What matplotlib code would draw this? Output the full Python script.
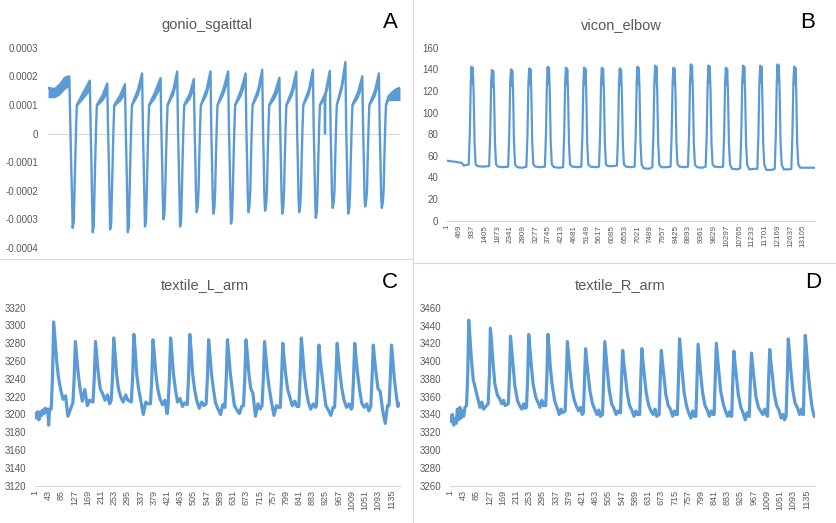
import numpy as np
import matplotlib
matplotlib.use("Agg")
import matplotlib.pyplot as plt
from matplotlib.lines import Line2D

# ---- data (sample index, value) ----

# gonio_sgaittal, values in units of 1e-4; band = thickness of the noisy ramp below the trace
gonio_x = [1, 250, 450, 650, 820, 860, 890, 925, 950,
           990, 1020, 1050, 1080, 1110, 1330, 1610, 1640, 1670, 1695, 1720,
           1760, 1790, 1820, 1850, 1880, 2100, 2280, 2310, 2340, 2365, 2390,
           2430, 2460, 2490, 2520, 2550, 2770, 2960, 2990, 3020, 3045, 3070,
           3110, 3140, 3170, 3200, 3230, 3450, 3620, 3650, 3680, 3705, 3730,
           3770, 3800, 3830, 3860, 3890, 4110, 4330, 4360, 4390, 4415, 4440,
           4480, 4510, 4540, 4570, 4600, 4820, 4970, 5000, 5030, 5055, 5080,
           5120, 5150, 5180, 5210, 5240, 5460, 5610, 5640, 5670, 5695, 5720,
           5760, 5790, 5820, 5850, 5880, 6100, 6250, 6280, 6310, 6335, 6360,
           6400, 6430, 6460, 6490, 6520, 6740, 6930, 6960, 6990, 7015, 7040,
           7080, 7110, 7140, 7170, 7200, 7420, 7600, 7630, 7660, 7685, 7710,
           7750, 7780, 7810, 7840, 7870, 8090, 8240, 8270, 8300, 8325, 8350,
           8390, 8420, 8450, 8480, 8510, 8730, 8900, 8930, 8960, 8985, 9010,
           9050, 9080, 9110, 9140, 9170, 9390, 9550, 9580, 9610, 9635, 9660,
           9700, 9730, 9760, 9790, 9820, 10040, 10190, 10220, 10250, 10275, 10300,
           10340, 10370, 10400, 10430, 10460, 10640, 10655, 10670, 10840, 10870, 10900, 10925, 10950,
           10990, 11020, 11050, 11080, 11110, 11300, 11440, 11470, 11500, 11525, 11550,
           11590, 11620, 11650, 11680, 11710, 11930, 12090, 12120, 12150, 12175, 12200,
           12240, 12270, 12300, 12330, 12360, 12580, 12730, 12760, 12790, 12815, 12840,
           12880, 12910, 12940, 12970, 13000, 13100, 13250, 13400, 13540]
gonio_y = [1.6, 1.55, 1.7, 1.95, 2.0, 0.2, -1.0, -2.2, -3.3,
           -3.1, -2.0, -0.8, 0.2, 1.0, 1.38, 1.85, 0.2, -1.0, -2.2, -3.45,
           -3.25, -2.0, -0.8, 0.2, 1.0, 1.34, 1.75, 0.2, -1.0, -2.2, -3.35,
           -3.15, -2.0, -0.8, 0.2, 1.0, 1.32, 1.72, 0.2, -1.0, -2.2, -3.45,
           -3.25, -2.0, -0.8, 0.2, 1.0, 1.5, 2.1, 0.2, -1.0, -2.2, -3.25,
           -3.05, -2.0, -0.8, 0.2, 1.0, 1.42, 1.94, 0.2, -1.0, -2.2, -3.0,
           -2.8, -2.0, -0.8, 0.2, 1.0, 1.53, 2.17, 0.2, -1.0, -2.2, -3.25,
           -3.05, -2.0, -0.8, 0.2, 1.0, 1.4, 1.9, 0.2, -1.0, -2.2, -2.75,
           -2.55, -2.0, -0.8, 0.2, 1.0, 1.53, 2.17, 0.2, -1.0, -2.2, -2.8,
           -2.6, -2.0, -0.8, 0.2, 1.0, 1.53, 2.17, 0.2, -1.0, -2.2, -3.15,
           -2.95, -2.0, -0.8, 0.2, 1.0, 1.5, 2.1, 0.2, -1.0, -2.2, -2.75,
           -2.55, -2.0, -0.8, 0.2, 1.0, 1.55, 2.23, 0.2, -1.0, -2.2, -2.7,
           -2.5, -2.0, -0.8, 0.2, 1.0, 1.43, 1.95, 0.2, -1.0, -2.2, -2.8,
           -2.6, -2.0, -0.8, 0.2, 1.0, 1.52, 2.16, 0.2, -1.0, -2.2, -2.75,
           -2.55, -2.0, -0.8, 0.2, 1.0, 1.55, 2.23, 0.2, -1.0, -2.2, -2.95,
           -2.75, -2.0, -0.8, 0.2, 1.0, 1.35, 0.0, 1.4, 2.19, 0.2, -1.0, -2.2, -2.6,
           -2.4, -2.0, -0.8, 0.2, 1.0, 1.68, 2.5, 0.2, -1.0, -2.2, -2.8,
           -2.6, -2.0, -0.8, 0.2, 1.0, 1.45, 2.0, 0.2, -1.0, -2.2, -2.55,
           -2.35, -2.0, -0.8, 0.2, 1.0, 1.5, 2.1, 0.2, -1.0, -2.2, -2.6,
           -2.4, -2.0, -0.8, 0.2, 1.0, 1.3, 1.45, 1.55, 1.6]
gonio_band = [0.35, 0.3, 0.35, 0.4, 0.35, 0, 0, 0, 0,
              0, 0, 0, 0, 0.05, 0.2, 0.35, 0, 0, 0, 0,
              0, 0, 0, 0, 0.05, 0.2, 0.35, 0, 0, 0, 0,
              0, 0, 0, 0, 0.05, 0.2, 0.35, 0, 0, 0, 0,
              0, 0, 0, 0, 0.05, 0.2, 0.35, 0, 0, 0, 0,
              0, 0, 0, 0, 0.05, 0.2, 0.35, 0, 0, 0, 0,
              0, 0, 0, 0, 0.05, 0.2, 0.35, 0, 0, 0, 0,
              0, 0, 0, 0, 0.05, 0.2, 0.35, 0, 0, 0, 0,
              0, 0, 0, 0, 0.05, 0.2, 0.35, 0, 0, 0, 0,
              0, 0, 0, 0, 0.05, 0.2, 0.35, 0, 0, 0, 0,
              0, 0, 0, 0, 0.05, 0.2, 0.35, 0, 0, 0, 0,
              0, 0, 0, 0, 0.05, 0.2, 0.35, 0, 0, 0, 0,
              0, 0, 0, 0, 0.05, 0.2, 0.35, 0, 0, 0, 0,
              0, 0, 0, 0, 0.05, 0.2, 0.35, 0, 0, 0, 0,
              0, 0, 0, 0, 0.05, 0.2, 0.35, 0, 0, 0, 0,
              0, 0, 0, 0, 0.05, 0.15, 0, 0.15, 0.35, 0, 0, 0, 0,
              0, 0, 0, 0, 0.05, 0.2, 0.35, 0, 0, 0, 0,
              0, 0, 0, 0, 0.05, 0.2, 0.35, 0, 0, 0, 0,
              0, 0, 0, 0, 0.05, 0.2, 0.35, 0, 0, 0, 0,
              0, 0, 0, 0, 0.05, 0.15, 0.3, 0.4, 0.45]

# vicon_elbow
vicon_x = [1, 300, 560, 620, 700,
           810, 850, 885, 915, 940, 960, 990, 1025, 1065, 1140, 1340,
           1560, 1600, 1635, 1665, 1690, 1710, 1740, 1775, 1815, 1890, 2090,
           2260, 2300, 2335, 2365, 2390, 2410, 2440, 2475, 2515, 2590, 2790,
           2930, 2970, 3005, 3035, 3060, 3080, 3110, 3145, 3185, 3260, 3460,
           3610, 3650, 3685, 3715, 3740, 3760, 3790, 3825, 3865, 3940, 4140,
           4280, 4320, 4355, 4385, 4410, 4430, 4460, 4495, 4535, 4610, 4810,
           4950, 4990, 5025, 5055, 5080, 5100, 5130, 5165, 5205, 5280, 5480,
           5600, 5640, 5675, 5705, 5730, 5750, 5780, 5815, 5855, 5930, 6130,
           6260, 6300, 6335, 6365, 6390, 6410, 6440, 6475, 6515, 6590, 6790,
           6910, 6950, 6985, 7015, 7040, 7060, 7090, 7125, 7165, 7240, 7440,
           7560, 7600, 7635, 7665, 7690, 7710, 7740, 7775, 7815, 7890, 8090,
           8230, 8270, 8305, 8335, 8360, 8380, 8410, 8445, 8485, 8560, 8760,
           8870, 8910, 8945, 8975, 9000, 9020, 9050, 9085, 9125, 9200, 9400,
           9520, 9560, 9595, 9625, 9650, 9670, 9700, 9735, 9775, 9850, 10050,
           10160, 10200, 10235, 10265, 10290, 10310, 10340, 10375, 10415, 10490, 10690,
           10790, 10830, 10865, 10895, 10920, 10940, 10970, 11005, 11045, 11120, 11320,
           11420, 11460, 11495, 11525, 11550, 11570, 11600, 11635, 11675, 11750, 11950,
           12060, 12100, 12135, 12165, 12190, 12210, 12240, 12275, 12315, 12390, 12590,
           12670, 12710, 12745, 12775, 12800, 12820, 12850, 12885, 12925, 13000, 13200,
           13540]
vicon_y = [55.5, 54.5, 53.5, 51, 51.5,
           52, 80, 128, 142.4, 127, 141.4, 120, 72, 52, 50.5, 50,
           50.5, 80, 128, 139.3, 124, 138.3, 120, 72, 52, 50, 49.5,
           50, 80, 128, 140, 125, 139, 120, 72, 52, 49.5, 49,
           50, 80, 128, 140.9, 126, 139.9, 120, 72, 52, 50, 49.5,
           50, 80, 128, 142.4, 127, 141.4, 120, 72, 52, 49.5, 49,
           49.5, 80, 128, 141.5, 126, 140.5, 120, 72, 52, 50, 49.5,
           50, 80, 128, 141.5, 126, 140.5, 120, 72, 52, 50, 49.5,
           50, 80, 128, 141.5, 126, 140.5, 120, 72, 52, 50.5, 50.5,
           51, 80, 128, 140.9, 126, 139.9, 120, 72, 52, 50, 49.5,
           50, 80, 128, 142.4, 127, 141.4, 120, 72, 52, 48.5, 48,
           49.5, 80, 128, 143.4, 128, 142.4, 120, 72, 52, 49.5, 49.5,
           50, 80, 128, 141.5, 126, 140.5, 120, 72, 52, 50, 49.5,
           50, 80, 128, 144.6, 129, 143.6, 120, 72, 52, 49.5, 49,
           50, 80, 128, 143.4, 128, 142.4, 120, 72, 52, 50, 49.5,
           50, 80, 128, 141.5, 126, 140.5, 120, 72, 52, 48, 47.5,
           48.5, 80, 128, 143.4, 128, 142.4, 120, 72, 52, 47.5, 48,
           48, 80, 128, 143.4, 128, 142.4, 120, 72, 52, 47, 47,
           48, 80, 128, 144.6, 129, 143.6, 120, 72, 52, 47.5, 47.5,
           48, 80, 128, 142.4, 127, 141.4, 120, 72, 52, 49, 49,
           49]

# textile_L_arm
textile_L_x = [1, 5, 9, 13, 17, 21, 25, 29, 33, 37, 41, 44, 47,
               52, 56, 60, 64, 69, 75, 82, 90, 98, 105,
               121, 125, 129, 133, 138, 144, 151, 159, 167, 174,
               185, 189, 193, 197, 202, 208, 215, 223, 231, 238,
               243, 247, 251, 255, 260, 266, 273, 281, 289, 296,
               307, 311, 315, 319, 324, 330, 337, 345, 353, 360,
               368, 372, 376, 380, 385, 391, 398, 406, 414, 421,
               424, 428, 432, 436, 441, 447, 454, 462, 470, 477,
               485, 489, 493, 497, 502, 508, 515, 523, 531, 538,
               545, 549, 553, 557, 562, 568, 575, 583, 591, 598,
               605, 609, 613, 617, 622, 628, 635, 643, 651, 658,
               664, 668, 672, 676, 681, 687, 694, 702, 710, 717,
               723, 727, 731, 735, 740, 746, 753, 761, 769, 776,
               781, 785, 789, 793, 798, 804, 811, 819, 827, 834,
               840, 844, 848, 852, 857, 863, 870, 878, 886, 893,
               896, 900, 904, 908, 913, 919, 926, 934, 942, 949,
               954, 958, 962, 966, 971, 977, 984, 992, 1000, 1007,
               1010, 1014, 1018, 1022, 1027, 1033, 1040, 1048, 1056, 1063,
               1069, 1073, 1077, 1081, 1086, 1092, 1099, 1107, 1115, 1122,
               1127, 1131, 1135, 1139, 1144, 1150, 1155, 1160]
textile_L_y = [3201, 3196, 3203, 3194, 3203, 3199, 3205, 3201, 3207, 3203, 3206, 3188, 3206,
               3206, 3240, 3304, 3285, 3262, 3242, 3228, 3217, 3221, 3198,
               3213, 3240, 3282, 3266, 3246, 3229, 3215, 3228, 3210, 3216,
               3214, 3240, 3282, 3266, 3246, 3229, 3224, 3216, 3222, 3212,
               3216, 3240, 3286, 3270, 3246, 3229, 3220, 3214, 3222, 3216,
               3214, 3240, 3290, 3274, 3246, 3229, 3216, 3200, 3214, 3212,
               3212, 3240, 3284, 3268, 3246, 3229, 3218, 3211, 3216, 3201,
               3210, 3240, 3286, 3270, 3246, 3229, 3214, 3218, 3209, 3213,
               3211, 3240, 3290, 3274, 3246, 3229, 3216, 3207, 3214, 3210,
               3212, 3240, 3284, 3268, 3246, 3229, 3213, 3206, 3200, 3211,
               3208, 3240, 3284, 3268, 3246, 3229, 3210, 3205, 3201, 3209,
               3210, 3240, 3284, 3268, 3246, 3229, 3224, 3198, 3212, 3206,
               3210, 3240, 3282, 3266, 3246, 3229, 3214, 3199, 3210, 3208,
               3208, 3240, 3280, 3264, 3246, 3229, 3220, 3210, 3215, 3209,
               3209, 3240, 3286, 3270, 3246, 3229, 3214, 3206, 3212, 3208,
               3210, 3240, 3278, 3262, 3246, 3229, 3210, 3205, 3199, 3208,
               3208, 3240, 3280, 3264, 3246, 3229, 3216, 3208, 3212, 3206,
               3208, 3240, 3280, 3264, 3246, 3229, 3213, 3208, 3212, 3204,
               3209, 3240, 3278, 3262, 3246, 3229, 3226, 3204, 3190, 3210,
               3210, 3240, 3278, 3262, 3240, 3222, 3209, 3212]

# textile_R_arm
textile_R_x = [1, 4, 8, 12, 16, 20, 24, 28, 32, 36, 40, 44, 48,
               53, 57, 60, 63, 68, 74, 82, 89, 96, 102, 107,
               122, 126, 129, 132, 137, 143, 151, 158, 165, 171, 176,
               186, 190, 193, 196, 201, 207, 215, 222, 229, 235, 240,
               244, 248, 251, 254, 259, 265, 273, 280, 287, 293, 298,
               305, 309, 312, 315, 320, 326, 334, 341, 348, 354, 359,
               367, 371, 374, 377, 382, 388, 396, 403, 410, 416, 421,
               425, 429, 432, 435, 440, 446, 454, 461, 468, 474, 479,
               486, 490, 493, 496, 501, 507, 515, 522, 529, 535, 540,
               543, 547, 550, 553, 558, 564, 572, 579, 586, 592, 597,
               604, 608, 611, 614, 619, 625, 633, 640, 647, 653, 658,
               666, 670, 673, 676, 681, 687, 695, 702, 709, 715, 720,
               724, 728, 731, 734, 739, 745, 753, 760, 767, 773, 778,
               783, 787, 790, 793, 798, 804, 812, 819, 826, 832, 837,
               841, 845, 848, 851, 856, 862, 870, 877, 884, 890, 895,
               897, 901, 904, 907, 912, 918, 926, 933, 940, 946, 951,
               953, 957, 960, 963, 968, 974, 982, 989, 996, 1002, 1007,
               1011, 1015, 1018, 1021, 1026, 1032, 1040, 1047, 1054, 1060, 1065,
               1070, 1074, 1077, 1080, 1085, 1091, 1099, 1106, 1113, 1119, 1123,
               1125, 1128, 1131, 1134, 1139, 1145, 1151, 1155, 1160]
textile_R_y = [3338, 3332, 3340, 3328, 3335, 3330, 3346, 3334, 3348, 3336, 3344, 3338, 3348,
               3350, 3385, 3446, 3432, 3405, 3380, 3368, 3358, 3348, 3354, 3346,
               3352, 3385, 3437, 3425, 3400, 3375, 3362, 3358, 3352, 3356, 3350,
               3352, 3385, 3428, 3416, 3395, 3372, 3356, 3350, 3346, 3352, 3347,
               3348, 3385, 3430, 3418, 3396, 3374, 3360, 3354, 3348, 3356, 3350,
               3350, 3385, 3430, 3418, 3392, 3372, 3355, 3348, 3340, 3346, 3342,
               3344, 3385, 3422, 3410, 3390, 3370, 3356, 3349, 3344, 3348, 3340,
               3342, 3385, 3414, 3402, 3385, 3366, 3352, 3346, 3340, 3345, 3338,
               3340, 3385, 3422, 3410, 3390, 3368, 3352, 3347, 3340, 3344, 3342,
               3342, 3385, 3412, 3400, 3385, 3365, 3350, 3345, 3338, 3344, 3340,
               3340, 3385, 3414, 3402, 3384, 3364, 3350, 3344, 3340, 3346, 3338,
               3340, 3385, 3412, 3400, 3384, 3363, 3350, 3346, 3338, 3344, 3340,
               3340, 3385, 3425, 3413, 3390, 3366, 3350, 3342, 3336, 3344, 3338,
               3338, 3385, 3419, 3407, 3386, 3365, 3350, 3345, 3338, 3344, 3340,
               3340, 3385, 3420, 3408, 3388, 3366, 3352, 3344, 3338, 3343, 3338,
               3338, 3385, 3411, 3399, 3382, 3362, 3348, 3342, 3334, 3342, 3338,
               3338, 3385, 3409, 3397, 3380, 3360, 3348, 3344, 3340, 3346, 3340,
               3338, 3385, 3413, 3401, 3385, 3364, 3350, 3345, 3336, 3340, 3334,
               3338, 3385, 3425, 3413, 3390, 3368, 3352, 3348, 3340, 3346, 3340,
               3340, 3385, 3429, 3417, 3392, 3370, 3352, 3344, 3338]

titles = ["gonio_sgaittal", "vicon_elbow", "textile_L_arm", "textile_R_arm"]
letters = ["A", "B", "C", "D"]

gonio_ticks = [-0.0004, -0.0003, -0.0002, -0.0001, 0, 0.0001, 0.0002, 0.0003]
gonio_labels = ["-0.0004", "-0.0003", "-0.0002", "-0.0001", "0", "0.0001", "0.0002", "0.0003"]
vicon_ticks = [0, 20, 40, 60, 80, 100, 120, 140, 160]
textile_L_ticks = [3120, 3140, 3160, 3180, 3200, 3220, 3240, 3260, 3280, 3300, 3320]
textile_R_ticks = [3260, 3280, 3300, 3320, 3340, 3360, 3380, 3400, 3420, 3440, 3460]
vicon_xlabels = list(range(1, 13106, 468))
textile_xlabels = list(range(1, 1136, 42))

vicon_n = 13540
textile_n = 1162

BLUE = "#5b9bd5"
GREY = "#595959"
LIGHT = "#d9d9d9"
W, H = 837, 523

plt.rcParams["font.family"] = ["Liberation Sans", "DejaVu Sans"]


def rect(l, t, r, b):
    return [l / W, 1 - b / H, (r - l) / W, (b - t) / H]


def style_axes(ax, ticks, labels, pad):
    ax.set_ylim(ticks[0], ticks[-1])
    ax.set_yticks(ticks)
    ax.set_yticklabels(labels, fontsize=7, color=GREY)
    ax.tick_params(axis="y", length=0, pad=pad)
    for side in ["top", "right", "left"]:
        ax.spines[side].set_visible(False)
    ax.spines["bottom"].set_color(LIGHT)
    ax.spines["bottom"].set_linewidth(0.8)


def set_xlabels(ax, labels, n, size):
    ax.set_xlim(0.5, n)
    ax.set_xticks(labels)
    ax.set_xticklabels([str(v) for v in labels], rotation=90, fontsize=size, color=GREY)
    ax.tick_params(axis="x", length=0, pad=3)


def main():
    fig = plt.figure(figsize=(W / 100, H / 100), dpi=100)

    # A
    ax = fig.add_axes(rect(48, 47.7, 400, 248))
    gx = np.array(gonio_x)
    gy = np.array(gonio_y) * 1e-4
    gb = np.array(gonio_band) * 1e-4
    ax.axhline(0, color=LIGHT, lw=0.8, zorder=1)
    ax.fill_between(gx, gy - gb, gy, color=BLUE, lw=0, zorder=2)
    ax.plot(gx, gy, color=BLUE, lw=1.7, zorder=3)
    style_axes(ax, gonio_ticks, gonio_labels, 7)
    ax.spines["bottom"].set_visible(False)
    ax.set_xlim(0.5, vicon_n)
    ax.set_xticks([])

    # B
    ax = fig.add_axes(rect(446.7, 47.7, 815, 220.7))
    ax.plot(vicon_x, vicon_y, color=BLUE, lw=1.6)
    style_axes(ax, vicon_ticks, [str(v) for v in vicon_ticks], 6)
    set_xlabels(ax, vicon_xlabels, vicon_n, 5.8)

    # C
    ax = fig.add_axes(rect(35, 307.7, 400, 485.7))
    ax.plot(textile_L_x, textile_L_y, color=BLUE, lw=2.3)
    style_axes(ax, textile_L_ticks, [str(v) for v in textile_L_ticks], 6)
    set_xlabels(ax, textile_xlabels, textile_n, 6.5)

    # D
    ax = fig.add_axes(rect(450, 307.7, 815, 485.7))
    ax.plot(textile_R_x, textile_R_y, color=BLUE, lw=2.3)
    style_axes(ax, textile_R_ticks, [str(v) for v in textile_R_ticks], 6)
    set_xlabels(ax, textile_xlabels, textile_n, 6.5)

    # titles and panel letters
    title_pos = [(207, 25), (621, 25), (205, 285), (620, 285)]
    letter_pos = [(390, 23), (808, 23), (390, 283), (813, 282)]
    for t, (x, y) in zip(titles, title_pos):
        fig.text(x / W, 1 - y / H, t, ha="center", va="center", fontsize=10.5, color=GREY)
    for t, (x, y) in zip(letters, letter_pos):
        fig.text(x / W, 1 - y / H, t, ha="center", va="center", fontsize=16, color="black")

    # chart borders between the four panels
    fig.add_artist(Line2D([413 / W, 413 / W], [0, 1], color=LIGHT, lw=0.8))
    fig.add_artist(Line2D([0, 413 / W], [1 - 259 / H, 1 - 259 / H], color=LIGHT, lw=0.8))
    fig.add_artist(Line2D([413 / W, 1], [1 - 263 / H, 1 - 263 / H], color=LIGHT, lw=0.8))

    fig.savefig("out.png", dpi=100)


if __name__ == "__main__":
    main()
